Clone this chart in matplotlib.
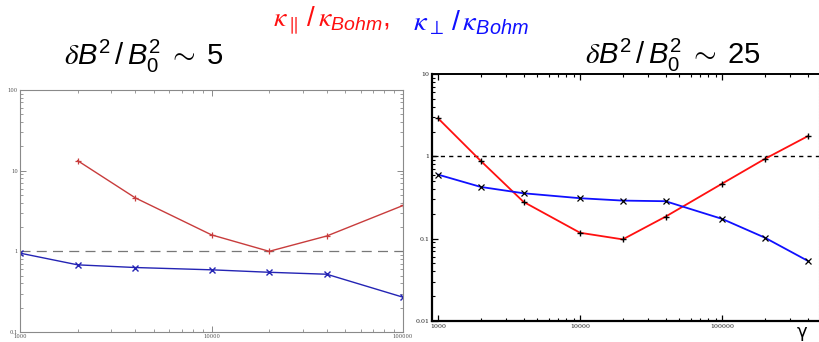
import matplotlib
matplotlib.use("Agg")
import matplotlib.pyplot as plt
from matplotlib.ticker import LogLocator, NullFormatter

plt.rcParams['mathtext.fontset'] = 'custom'
plt.rcParams['mathtext.rm'] = 'Liberation Sans'
plt.rcParams['mathtext.it'] = 'Liberation Sans:italic'
plt.rcParams['mathtext.sf'] = 'Liberation Sans'
plt.rcParams['mathtext.bf'] = 'STIXGeneral:italic'
plt.rcParams['font.family'] = ['Liberation Sans', 'DejaVu Sans']

# ---- data: left panel (dB^2/B0^2 ~ 5) ----
gamma_left = [1000, 2000, 4000, 10000, 20000, 40000, 100000]
kpar_left_x = [2000, 4000, 10000, 20000, 40000, 100000]
kpar_left = [13.3, 4.6, 1.6, 1.0, 1.55, 3.7]
kperp_left = [0.95, 0.68, 0.63, 0.59, 0.55, 0.52, 0.27]

# ---- data: right panel (dB^2/B0^2 ~ 25) ----
gamma_right = [1000, 2000, 4000, 10000, 20000, 40000, 100000, 200000, 400000]
kpar_right = [2.9, 0.88, 0.28, 0.118, 0.098, 0.185, 0.465, 0.93, 1.75]
kperp_right = [0.60, 0.425, 0.356, 0.31, 0.29, 0.285, 0.174, 0.103, 0.054]

left_yticks = [0.1, 1, 10, 100]
left_yticklabels = ['0.1', '1', '10', '100']
left_xticks = [1000, 10000, 100000]
left_xticklabels = ['1000', '10000', '100000']
right_yticks = [0.01, 0.1, 1, 10]
right_yticklabels = ['0.01', '0.1', '1', '10']
right_xticks = [1000, 10000, 100000]
right_xticklabels = ['1000', '10000', '100000']

fig = plt.figure(figsize=(8.19, 3.42), dpi=100)

# ---------- left panel ----------
axL = fig.add_axes([20/819, 1-332/342, 383/819, 242/342])
axL.set_xscale('log'); axL.set_yscale('log')
axL.set_xlim(1000, 100000); axL.set_ylim(0.1, 100)
axL.axhline(1, color='#777777', lw=0.9, ls=(0, (8, 5)))
axL.plot(kpar_left_x, kpar_left, color='#c83c3c', lw=1.0, marker='+', ms=5, mew=0.9)
axL.plot(gamma_left, kperp_left, color='#2424b4', lw=1.0, marker='x', ms=4, mew=1.0)
for s in axL.spines.values():
    s.set_color('#8a8a8a'); s.set_linewidth(0.8)
axL.set_xticks(left_xticks); axL.set_xticklabels(left_xticklabels)
axL.set_yticks(left_yticks); axL.set_yticklabels(left_yticklabels)
axL.xaxis.set_minor_locator(LogLocator(base=10, subs=range(2, 10)))
axL.yaxis.set_minor_locator(LogLocator(base=10, subs=range(2, 10)))
axL.xaxis.set_minor_formatter(NullFormatter()); axL.yaxis.set_minor_formatter(NullFormatter())
axL.tick_params(which='both', direction='in', top=True, right=True, color='#8a8a8a',
                labelsize=3.8, labelcolor='#555555', pad=1.5)
axL.tick_params(which='major', length=4, width=0.7)
axL.tick_params(which='minor', length=2.5, width=0.6)
for lab in axL.get_xticklabels() + axL.get_yticklabels():
    lab.set_family('DejaVu Serif')

# ---------- right panel ----------
axR = fig.add_axes([432/819, 1-321/342, 387/819, 247/342])
axR.set_xscale('log'); axR.set_yscale('log')
axR.set_xlim(907, 482000); axR.set_ylim(0.01, 10)
axR.axhline(1, color='black', lw=1.0, ls=(0, (3, 3)))
axR.plot(gamma_right, kpar_right, color='#ff1010', lw=1.3, zorder=2)
axR.plot(gamma_right, kpar_right, ls='none', marker='+', ms=5, mew=1.0, color='black', zorder=3)
axR.plot(gamma_right, kperp_right, color='#1010ff', lw=1.3, zorder=2)
axR.plot(gamma_right, kperp_right, ls='none', marker='x', ms=4, mew=0.9, color='black', zorder=3)
for k in ['left', 'bottom', 'top']:
    axR.spines[k].set_color('black')
axR.spines['left'].set_linewidth(1.6)
axR.spines['bottom'].set_linewidth(1.6)
axR.spines['top'].set_linewidth(1.4)
axR.spines['right'].set_color('#bbbbbb'); axR.spines['right'].set_linestyle(':')
axR.set_xticks(right_xticks); axR.set_xticklabels(right_xticklabels)
axR.set_yticks(right_yticks); axR.set_yticklabels(right_yticklabels)
axR.xaxis.set_minor_locator(LogLocator(base=10, subs=range(2, 10)))
axR.yaxis.set_minor_locator(LogLocator(base=10, subs=range(2, 10)))
axR.xaxis.set_minor_formatter(NullFormatter()); axR.yaxis.set_minor_formatter(NullFormatter())
axR.tick_params(which='both', direction='in', top=True, right=False, color='black',
                labelsize=4.5, labelcolor='#222222', pad=2)
axR.tick_params(which='major', length=4, width=0.9)
axR.tick_params(which='minor', length=2.5, width=0.8)
for lab in axR.get_xticklabels() + axR.get_yticklabels():
    lab.set_family('DejaVu Serif')

# ---------- titles / annotations ----------
fig.text(144/819, 1-56/342, r'$\mathbf{\delta} B^2\,/\,B_0^2\;\sim\;5$', fontsize=21,
         ha='center', va='center')
fig.text(673/819, 1-55/342, r'$\mathbf{\delta} B^2\,/\,B_0^2\;\sim\;25$', fontsize=21,
         ha='center', va='center')
fig.text(273/819, 1-21/342, r'$\mathbf{\kappa}_{\parallel}\,/\,\mathbf{\kappa}_{Bohm},$',
         fontsize=20, color='#ff1010', ha='left', va='center')
fig.text(413/819, 1-23/342, r'$\mathbf{\kappa}_{\perp}\,/\,\mathbf{\kappa}_{Bohm}$',
         fontsize=20.5, color='#1010ff', ha='left', va='center')
fig.text(802/819, 1-332/342, '\u03b3', fontsize=13, ha='center', va='center',
         family='DejaVu Sans')

fig.savefig('out.png', dpi=100)
